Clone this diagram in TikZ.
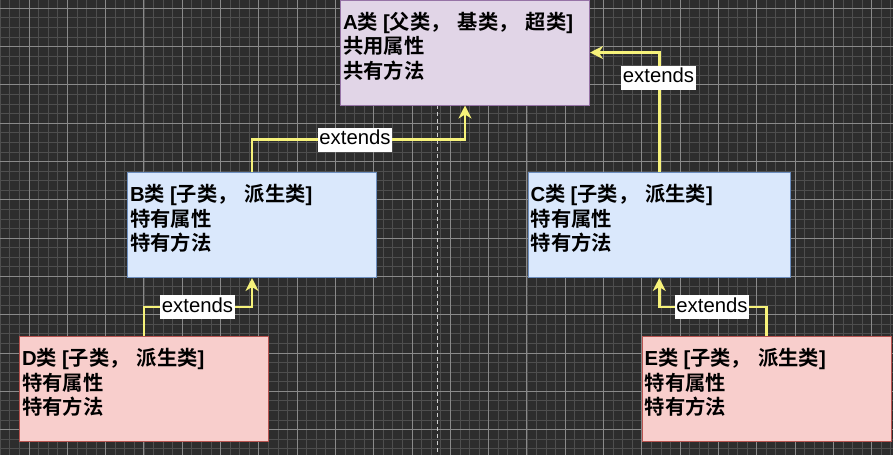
\documentclass[tikz,border=0pt]{standalone}
\usepackage{fontspec}
\newfontfamily\cjk{Noto Sans CJK SC Bold}
\newfontfamily\latb{Liberation Sans Bold}
\newfontfamily\lblfont{Liberation Sans}
\usetikzlibrary{arrows.meta,calc}
\definecolor{bgc}{RGB}{45,45,45}
\definecolor{minorc}{RGB}{78,78,78}
\definecolor{majorc}{RGB}{138,138,138}
\definecolor{dashc}{RGB}{205,205,205}
\definecolor{afill}{HTML}{E1D5E7}\definecolor{aline}{HTML}{9673A6}
\definecolor{bfill}{HTML}{DAE8FC}\definecolor{bline}{HTML}{6C8EBF}
\definecolor{dfill}{HTML}{F8CECC}\definecolor{dline}{HTML}{B85450}
\definecolor{edgec}{RGB}{246,242,122}
\newcommand{\clstext}[3]{\vtop{\baselineskip=24.5pt\hbox{#1}\hbox{#2}\hbox{#3}}}
\newcommand{\clstitle}[3]{{\latb #1}类\hspace{5pt}{\latb [}#2，\hspace{7pt}#3{\latb ]}}
\tikzset{
  minorln/.style={draw=minorc,line width=0.8pt},
  majorln/.style={draw=majorc,line width=0.9pt},
  clsbox/.style={rectangle,line width=1pt,minimum width=249pt,minimum height=105pt,inner sep=0pt,anchor=north west},
  boxa/.style={clsbox,draw=aline,fill=afill},
  boxb/.style={clsbox,draw=bline,fill=bfill},
  boxd/.style={clsbox,draw=dline,fill=dfill},
  clslabel/.style={anchor=base west,inner sep=0pt,font=\cjk\fontsize{20.3}{24.5}\selectfont,text=black},
  ext/.style={draw=edgec,line width=2.5pt,-{Stealth[length=13pt,width=13pt,inset=4pt]}},
  extlabel/.style={fill=white,text=black,font=\lblfont\fontsize{20.3}{24}\selectfont,inner xsep=1.5pt,inner ysep=2pt,text height=15pt,text depth=5pt},
}
\begin{document}
\begin{tikzpicture}[x=1pt,y=-1pt]
\fill[bgc] (0,0) rectangle (893,455);
\useasboundingbox (0,0) rectangle (893,455);
% grid
\foreach \i in {0,...,94} \draw[minorln] ({0.3+9.575*\i},0) -- ({0.3+9.575*\i},455);
\foreach \j in {0,...,48} \draw[minorln] (0,{-1.3+9.575*\j}) -- (893,{-1.3+9.575*\j});
\foreach \i in {0,...,23} \draw[majorln] ({29+38.3*\i},0) -- ({29+38.3*\i},455);
\foreach \j in {0,...,12} \draw[majorln] (0,{8.3+38.3*\j}) -- (893,{8.3+38.3*\j});
\draw[dashc,line width=1pt,dash pattern=on 4pt off 3pt] (437,0) -- (437,455);
% boxes
\node[boxa] (A) at (340,-0.5) {};
\node[boxb] (B) at (127,172) {};
\node[boxb,minimum width=262.5pt] (C) at (527.5,172) {};
\node[boxd] (D) at (19,336) {};
\node[boxd] (E) at (641.5,336) {};
\node[clslabel] (At) at ($(A.north west)+(3,29.5)$) {\clstext{\clstitle{A}{父类，\hspace{7pt}基类}{超类}}{共用属性}{共有方法}};
\node[clslabel] (Bt) at ($(B.north west)+(3,29.5)$) {\clstext{\clstitle{B}{子类}{派生类}}{特有属性}{特有方法}};
\node[clslabel] (Ct) at ($(C.north west)+(3,29.5)$) {\clstext{\clstitle{C}{子类}{派生类}}{特有属性}{特有方法}};
\node[clslabel] (Dt) at ($(D.north west)+(3,29.5)$) {\clstext{\clstitle{D}{子类}{派生类}}{特有属性}{特有方法}};
\node[clslabel] (Et) at ($(E.north west)+(3,29.5)$) {\clstext{\clstitle{E}{子类}{派生类}}{特有属性}{特有方法}};
% edges
\draw[ext] (B.north) -- ++(0,-32.3) -| (A.south);
\draw[ext] (C.north) |- (A.east);
\draw[ext] (D.north) -- ++(0,-29) -| (B.south);
\draw[ext] (E.north) -- ++(0,-29) -| (C.south);
% labels
\node[extlabel] (l1) at (355,139.7) {extends};
\node[extlabel] (l2) at (658.5,77.5) {extends};
\node[extlabel] (l3) at (197.5,307) {extends};
\node[extlabel] (l4) at (712,307) {extends};
\end{tikzpicture}
\end{document}
